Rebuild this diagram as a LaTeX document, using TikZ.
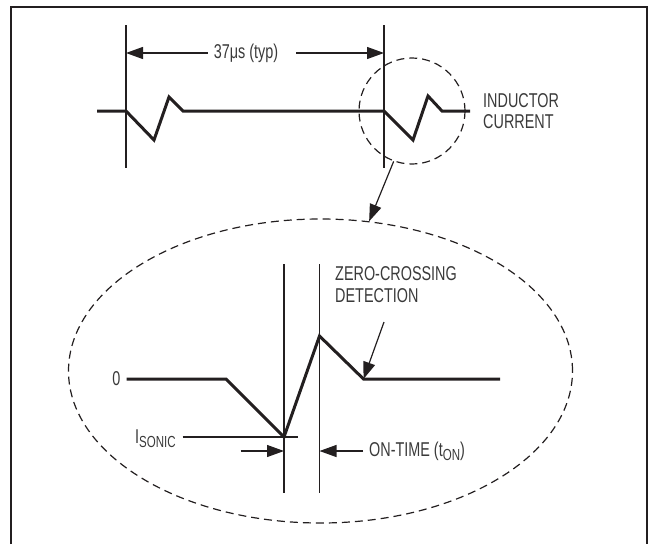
\documentclass[tikz,border=0pt]{standalone}
\usepackage{fontspec}
\setmainfont{Liberation Sans}[FakeStretch=0.72]
\usetikzlibrary{arrows.meta,positioning,shapes.geometric}
\definecolor{ink}{HTML}{231F20}
\definecolor{txt}{HTML}{3A3A3A}
\newcommand\lbl{\fontsize{20}{21.5}\selectfont}
\newcommand\sublbl[1]{\raisebox{-4pt}{\fontsize{16}{16}\selectfont #1}}

\begin{document}
\begin{tikzpicture}[
    x=1pt,y=-1pt,
    every node/.style={inner sep=0pt,text=txt,font=\lbl},
    wave/.style={draw=ink,line width=3pt,line join=miter},
    guide/.style={draw=ink,line width=1.2pt},
    dimarrow/.style={guide,-{Triangle[length=17pt,width=12pt]}},
    lens/.style={draw=ink,line width=1.2pt,dash pattern=on 8pt off 5pt}
]
\useasboundingbox (0,0) rectangle (650,544);

    % frame, open at the bottom
    \draw [ink,line width=2.3pt] (10.7,544) |- (647,7) -- (647,544);

    % upper trace
    \coordinate (a0) at (97,111);
    \coordinate (a1) at (126,111);
    \coordinate (a2) at (154,140);
    \coordinate (a3) at (169,97);
    \coordinate (a4) at (183,111);
    \coordinate (b1) at (384,111);
    \coordinate (b2) at (413,140);
    \coordinate (b3) at (428,96);
    \coordinate (b4) at (442,111);
    \coordinate (b5) at (470,111);
    \coordinate (lt) at (126,25);
    \coordinate (lb) at (126,168);
    \coordinate (rt) at (384,25);
    \coordinate (rb) at (384,168);
    \coordinate (dl) at (126,53);
    \coordinate (dr) at (384,53);

    \draw [guide] (lt) -- (lb);
    \draw [guide] (rt) -- (rb);
    \draw [wave] (a0) -- (a1) -- (a2) -- (a3) -- (a4)
        -- (b1) -- (b2) -- (b3) -- (b4) -- (b5);

    \node (typ) at (246,53) {37μs (typ)};
    \draw [dimarrow] ([xshift=-6pt]typ.west) -- (dl);
    \draw [dimarrow] ([xshift=18pt]typ.east) -- (dr);

    \node (ind) [anchor=west,align=left] at (483,111) {INDUCTOR\\CURRENT};

    \node (spot) [lens,circle,minimum size=106pt] at (412,111) {};
    \node (big) [lens,ellipse,minimum width=504pt,minimum height=304pt] at (320.5,371) {};
    \draw [dimarrow] (spot.250) -- (big.72);

    % lower trace, magnified
    \coordinate (p0) at (126.5,379);
    \coordinate (p1) at (226,379);
    \coordinate (p2) at (284,437);
    \coordinate (p3) at (319.5,336);
    \coordinate (p4) at (363.5,379);
    \coordinate (p5) at (500,379);
    \coordinate (v1t) at (284,264);
    \coordinate (v1b) at (284,493);
    \coordinate (v2t) at (319.5,264);
    \coordinate (v2b) at (319.5,493);

    \draw [guide] (v1t) -- (v1b);
    \draw [guide] (v2t) -- (v2b);
    \draw [wave] (p0) -- (p1) -- (p2) -- (p3) -- (p4) -- (p5);

    \node (zero) [anchor=east] at (120.5,379) {0};

    \node (isonic) [anchor=base west] at (135,443) {I\sublbl{SONIC}};
    \coordinate (il) at (182.6,437);
    \coordinate (ir) at (298,437);
    \draw [guide] (il) -- (ir);

    \coordinate (onl) at (240.7,451);
    \coordinate (onr) at (363,451);
    \draw [dimarrow] (onl) -- (p2 |- onl);
    \draw [dimarrow] (onr) -- (p3 |- onr);
    \node (ontime) [anchor=west] at (369,451) {ON-TIME (t\sublbl{ON})};

    \node (zc) [anchor=base west,align=left] at (335,302) {ZERO-CROSSING\\DETECTION};
    \coordinate (zctail) at (384,322);
    \draw [dimarrow] (zctail) -- (p4);
\end{tikzpicture}
\end{document}
